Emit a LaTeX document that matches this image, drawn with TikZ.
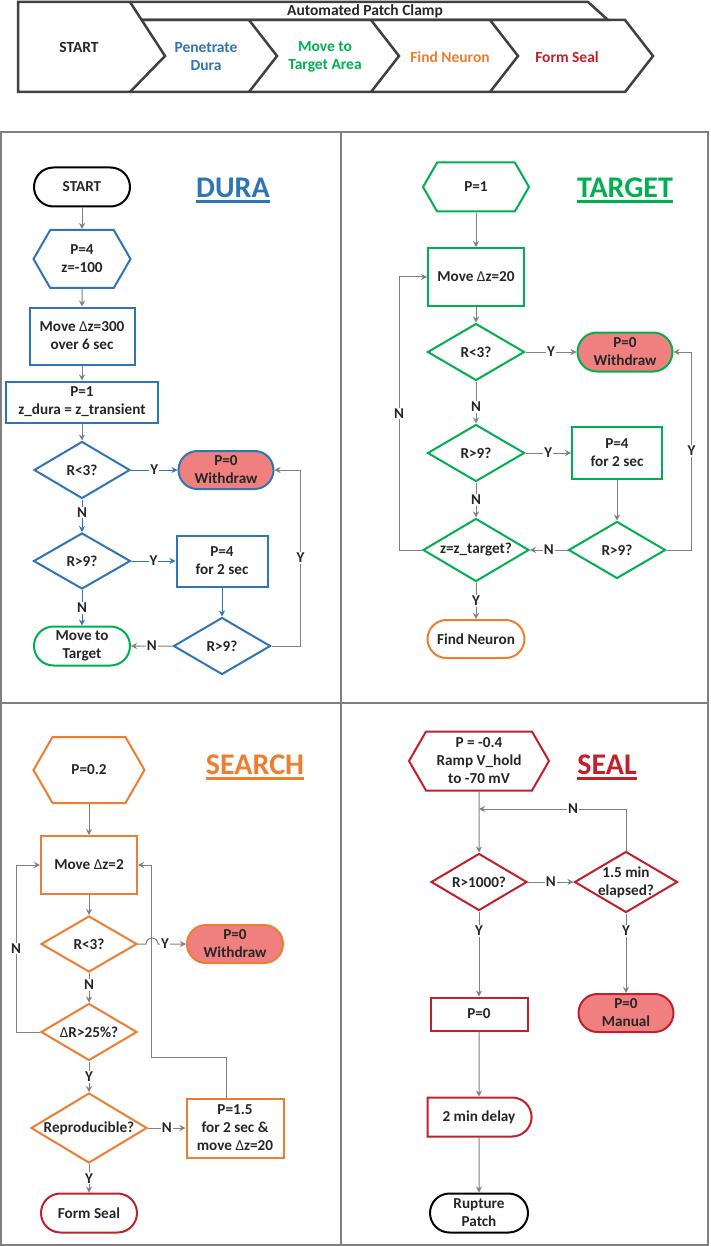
\documentclass[tikz,border=0pt]{standalone}
\usepackage{fontspec}
\setmainfont{Carlito}
\usetikzlibrary{
  arrows.meta,
  positioning,
  shapes.geometric,
  shapes.symbols,
  shapes.misc
}
\definecolor{duraBlue}{RGB}{46,117,182}
\definecolor{tgtGreen}{RGB}{0,176,80}
\definecolor{srchOrange}{RGB}{237,125,49}
\definecolor{sealRed}{RGB}{192,32,44}
\definecolor{stopFill}{RGB}{240,128,128}
\definecolor{lineGray}{RGB}{128,128,128}
\definecolor{bannerGray}{RGB}{64,64,64}
\definecolor{txt}{RGB}{38,38,38}
\tikzset{
  base/.style   = {line width=2pt, align=center, text=txt, inner sep=0pt,
                   font=\bfseries\fontsize{15.2}{18}\selectfont},
  wh/.style 2 args = {minimum width=#1pt, minimum height=#2pt},
  proc/.style   = {base, rectangle, draw=#1},
  prep/.style   = {base, signal, signal to=east and west,
                   signal pointer angle=120, draw=#1},
  dec/.style    = {base, diamond, aspect=1.7, draw=#1},
  term/.style   = {base, rounded rectangle, draw=#1},
  stop/.style   = {term=#1, fill=stopFill},
  delay/.style  = {term=#1, rounded rectangle left arc=none},
  arrow/.style  = {-{Stealth[length=6pt,width=6pt]}, line width=1pt, draw=lineGray},
  barrow/.style = {arrow, draw=duraBlue},
  yn/.style     = {fill=white, inner sep=1pt, text=txt,
                   font=\bfseries\fontsize{15}{15}\selectfont},
  title/.style  = {inner sep=0pt, font=\bfseries\fontsize{30}{30}\selectfont},
  band/.style   = {draw=bannerGray, line width=2.5pt},
  stage/.style  = {align=center, inner sep=0pt, text=txt,
                   font=\bfseries\fontsize{15.5}{18}\selectfont},
  frame/.style  = {draw=lineGray, line width=1.6pt},
}

\begin{document}
\begin{tikzpicture}[x=1pt, y=-1pt]
\useasboundingbox (0,0) rectangle (710,1246);

% banner
\draw[band] (18,2) -- (130,2) -- (165,56) -- (130,92) -- (18,92) -- cycle;
\draw[band] (130,2) -- (588,2) -- (608,20) -- (142,20);
\draw[band] (142,20) -- (625,20) -- (653,56) -- (625,92) -- (130,92);
\foreach \b in {249,371,490}
  \draw[band] (\b,20) -- (\b+28,56) -- (\b,92);

\node[stage] (bTitle) at (365,11) {Automated Patch Clamp};
\node[stage] (bStart) at (79,47) {START};
\node[stage, text=duraBlue]   (bDura) at (206,57) {Penetrate\\Dura};
\node[stage, text=tgtGreen]   (bTgt)  at (325,57) {Move to\\Target Area};
\node[stage, text=srchOrange] (bFind) at (450,57) {Find Neuron};
\node[stage, text=sealRed]    (bSeal) at (567,57) {Form Seal};

% panels
\draw[frame] (1,132) rectangle (708,1245);
\draw[frame] (341,132) -- (341,1245);
\draw[frame] (1,703) -- (708,703);

% DURA
\node[title, text=duraBlue] (dTitle) at (233,188) {DURA};
\draw[duraBlue, line width=2.5pt] ([yshift=-4pt]dTitle.base west) -- ([yshift=-4pt]dTitle.base east);
\node[term=black, wh={96}{39}]       (dStart) at (82,187) {START};
\node[prep=duraBlue, wh={97}{58}]    (dHex)   at (82,259) {P=4\\z=-100};
\node[proc=duraBlue, wh={105}{57}]   (dMove)  at (82,336) {Move {\mdseries Δ}z=300\\over 6 sec};
\node[proc=duraBlue, wh={152}{41}]   (dSet)   at (82,402) {P=1\\z\_dura = z\_transient};
\node[dec=duraBlue, wh={96}{57}]     (dR3)    at (82,470) {R<3?};
\node[stop=duraBlue, wh={95}{38}]    (dWd)    at (226,470) {P=0\\Withdraw};
\node[dec=duraBlue, wh={97}{56}]     (dR9)    at (82,561) {R>9?};
\node[proc=duraBlue, wh={91}{51}]    (dP4)    at (222,561) {P=4\\for 2 sec};
\node[dec=duraBlue, wh={97}{57}]     (dR9b)   at (222,646) {R>9?};
\node[term=tgtGreen, wh={96}{39}]    (dNext)  at (82,646) {Move to\\Target};

\draw[arrow] (dStart) -- (dHex);
\draw[arrow] (dHex) -- (dMove);
\draw[arrow] (dMove) -- (dSet);
\draw[arrow] (dSet) -- (dR3);
\draw[barrow] (dR3) -- node[yn]{Y} (dWd);
\draw[barrow] (dR3) -- node[yn, pos=0.4]{N} (dR9);
\draw[barrow] (dR9) -- node[yn]{Y} (dP4);
\draw[barrow] (dR9) -- node[yn]{N} (dNext);
\draw[barrow] (dP4) -- (dR9b);
\draw[arrow] (dR9b) -- node[yn]{N} (dNext);
\draw[arrow] (dR9b.east) -- ++(29,0) |- node[yn, pos=0.25]{Y} (dWd.east);

% TARGET
\node[title, text=tgtGreen] (tTitle) at (625,188) {TARGET};
\draw[tgtGreen, line width=2.5pt] ([yshift=-4pt]tTitle.base west) -- ([yshift=-4pt]tTitle.base east);
\node[prep=tgtGreen, wh={106}{49}]   (tHex)   at (476,187) {P=1};
\node[proc=tgtGreen, wh={96}{58}]    (tMove)  at (476,277) {Move {\mdseries Δ}z=20};
\node[dec=tgtGreen, wh={97}{57}]     (tR3)    at (476,352) {R<3?};
\node[stop=tgtGreen, wh={95}{39}]    (tWd)    at (625,352) {P=0\\Withdraw};
\node[dec=tgtGreen, wh={97}{57}]     (tR9)    at (476,453) {R>9?};
\node[proc=tgtGreen, wh={90}{52}]    (tP4)    at (617,453) {P=4\\for 2 sec};
\node[dec=tgtGreen, wh={106}{63}]    (tZ)     at (476,550) {z=z\_target?};
\node[dec=tgtGreen, wh={97}{57}]     (tR9b)   at (617,550) {R>9?};
\node[term=srchOrange, wh={97}{38}]  (tNext)  at (476,639) {Find Neuron};

\draw[arrow] (tHex) -- (tMove);
\draw[arrow] (tMove) -- (tR3);
\draw[arrow] (tR3) -- node[yn]{Y} (tWd);
\draw[arrow] (tR3) -- node[yn, pos=0.6]{N} (tR9);
\draw[arrow] (tR9) -- node[yn]{Y} (tP4);
\draw[arrow] (tR9) -- node[yn]{N} (tZ);
\draw[arrow] (tP4) -- (tR9b);
\draw[arrow] (tR9b) -- node[yn]{N} (tZ);
\draw[arrow] (tZ) -- node[yn]{Y} (tNext);
\draw[arrow] (tZ.west) -- ++(-23,0) |- node[yn, pos=0.25]{N} (tMove.west);
\draw[arrow] (tR9b.east) -- ++(25,0) |- node[yn, pos=0.25]{Y} (tWd.east);

% SEARCH
\node[title, text=srchOrange] (sTitle) at (255,765) {SEARCH};
\draw[srchOrange, line width=2.5pt] ([yshift=-4pt]sTitle.base west) -- ([yshift=-4pt]sTitle.base east);
\node[prep=srchOrange, wh={111}{66}] (sHex)   at (89,770) {P=0.2};
\node[proc=srchOrange, wh={96}{58}]  (sMove)  at (89,865) {Move {\mdseries Δ}z=2};
\node[dec=srchOrange, wh={96}{56}]   (sR3)    at (89,944) {R<3?};
\node[stop=srchOrange, wh={96}{38}]  (sWd)    at (235,944) {P=0\\Withdraw};
\node[dec=srchOrange, wh={96}{57}]   (sDR)    at (89,1032) {{\mdseries Δ}R>25\%?};
\node[dec=srchOrange, wh={116}{70}]  (sRep)   at (89,1128) {Reproducible?};
\node[proc=srchOrange, wh={97}{59}]  (sP15)   at (235,1128) {P=1.5\\for 2 sec \&\\move {\mdseries Δ}z=20};
\node[term=sealRed, wh={96}{39}]     (sNext)  at (89,1213) {Form Seal};

\draw[arrow] (sHex) -- (sMove);
\draw[arrow] (sMove) -- (sR3);
\draw[arrow] (sR3.east) -- ++(8,0) arc[start angle=180, end angle=360, radius=6]
  -- node[yn, pos=0.25]{Y} (sWd.west);
\draw[arrow] (sR3) -- node[yn, pos=0.4]{N} (sDR);
\draw[arrow] (sDR) -- node[yn]{Y} (sRep);
\draw[arrow] (sRep) -- node[yn]{N} (sP15);
\draw[arrow] (sRep) -- node[yn]{Y} (sNext);
\draw[arrow] (sDR.west) -- ++(-24,0) |- node[yn, pos=0.25]{N} (sMove.west);
\draw[arrow] ([xshift=-9pt]sP15.north) -- ++(0,-40) -- ++(-75,0) |- (sMove.east);

% SEAL
\node[title, text=sealRed] (eTitle) at (607,765) {SEAL};
\draw[sealRed, line width=2.5pt] ([yshift=-4pt]eTitle.base west) -- ([yshift=-4pt]eTitle.base east);
\node[prep=sealRed, wh={140}{59}]    (eHex)   at (479,761) {P = -0.4\\Ramp V\_hold\\to -70 mV};
\node[dec=sealRed, wh={96}{57}]      (eR)     at (479,882) {R>1000?};
\node[dec=sealRed, wh={103}{61}, inner sep=-4pt] (eT) at (626,882) {1.5 min\\elapsed?};
\node[proc=sealRed, wh={97}{33}]     (eP0)    at (479,1014) {P=0};
\node[stop=sealRed, wh={95}{38}]     (eMan)   at (626,1013) {P=0\\Manual};
\node[delay=sealRed, wh={104}{39}]   (eDelay) at (479,1117) {2 min delay};
\node[term=black, wh={98}{39}]       (eEnd)   at (479,1213) {Rupture\\Patch};
\coordinate (eJoin) at (479,809);

\draw[arrow] (eHex) -- (eR);
\draw[arrow] (eT.north) |- node[yn, pos=0.68]{N} (eJoin);
\draw[arrow] (eR) -- node[yn]{N} (eT);
\draw[arrow] (eR) -- node[yn, pos=0.23]{Y} (eP0);
\draw[arrow] (eT) -- node[yn, pos=0.22]{Y} (eMan);
\draw[arrow] (eP0) -- (eDelay);
\draw[arrow] (eDelay) -- (eEnd);
\end{tikzpicture}
\end{document}
